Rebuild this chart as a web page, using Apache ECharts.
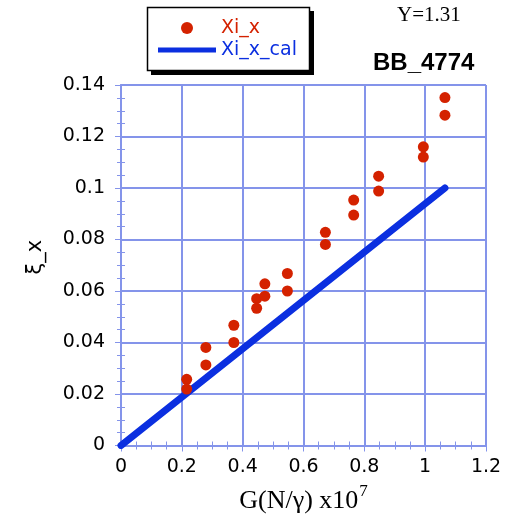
<!DOCTYPE html>
<html>
<head>
<meta charset="utf-8">
<script src="https://cdn.jsdelivr.net/npm/echarts@6/dist/echarts.min.js"></script>
<style>
  html, body { margin: 0; padding: 0; background: #fff; }
  #chart { width: 505px; height: 519px; }
</style>
</head>
<body>
<div id="chart"></div>
<script>
// Measured damping ratio vs. G(N/gamma), with the calculated line
const measuredG  = [0.216, 0.216, 0.279, 0.279, 0.371, 0.371, 0.446, 0.446, 0.473, 0.473,
                    0.547, 0.547, 0.672, 0.672, 0.765, 0.765, 0.847, 0.847, 0.994, 0.994,
                    1.065, 1.065];
const measuredXi = [0.0257, 0.0219, 0.0381, 0.0313, 0.0467, 0.0400, 0.0570, 0.0533, 0.0628, 0.0580,
                    0.0668, 0.0600, 0.0828, 0.0781, 0.0953, 0.0895, 0.1046, 0.0988, 0.1160, 0.1120,
                    0.1351, 0.1283];
const calcG  = [0, 1.065];
const calcXi = [0, 0.1000];

const xTicks = { min: 0, max: 1.2, interval: 0.2 };
const yTicks = { min: 0, max: 0.14, interval: 0.02 };

const gridBlue = '#8494ea';
const red = '#d42200';
const blue = '#0b2fe0';
const tickFont = 'DejaVu Sans';

const toPairs = (xs, ys) => xs.map((x, i) => [x, ys[i]]);

function frameAxis(base, extra) {
  return Object.assign({
    type: 'value',
    min: base.min, max: base.max, interval: base.interval,
    axisLine: { show: true, lineStyle: { color: gridBlue, width: 2 } },
    axisTick: { show: true, inside: true, length: 6, lineStyle: { color: gridBlue, width: 1 } },
    minorTick: { show: true, splitNumber: 4, length: 4, lineStyle: { color: gridBlue, width: 1 } },
    axisLabel: { show: false },
    splitLine: { show: false }
  }, extra);
}

const chart = echarts.init(document.getElementById('chart'), null, { renderer: 'canvas' });

chart.setOption({
  animation: false,
  backgroundColor: '#ffffff',
  title: [
    { text: 'Y=1.31', left: 397, top: 5, padding: 0,
      textStyle: { fontFamily: 'Liberation Serif', fontWeight: 'normal', fontSize: 21, color: '#000' } },
    { text: 'BB_4774', left: 373, top: 51, padding: 0,
      textStyle: { fontFamily: 'Liberation Sans', fontWeight: 'bold', fontSize: 24, color: '#000' } }
  ],
  // legend frame with a solid drop shadow
  graphic: [
    { type: 'rect', z: 0, silent: true,
      shape: { x: 151, y: 11, width: 163, height: 64 },
      style: { fill: '#000' } },
    { type: 'rect', z: 1, silent: true,
      shape: { x: 147.5, y: 7.5, width: 162, height: 63 },
      style: { fill: '#fff', stroke: '#000', lineWidth: 1.5 } }
  ],
  legend: {
    orient: 'vertical',
    left: 147, top: 7,
    padding: [11, 13, 11, 11],
    itemWidth: 58, itemHeight: 12, itemGap: 2,
    z: 5,
    textStyle: { fontFamily: tickFont, fontSize: 19, lineHeight: 20 },
    data: [
      { name: 'Xi_x', icon: 'circle', textStyle: { color: red } },
      { name: 'Xi_x_cal', icon: 'path://M0,0L58,0L58,5L0,5Z', textStyle: { color: blue } }
    ]
  },
  grid: { left: 121, right: 19, top: 85, bottom: 70 },
  xAxis: [
    frameAxis(xTicks, {
      position: 'bottom',
      axisLabel: { show: true, margin: 12, fontFamily: tickFont, fontSize: 19, color: '#000' },
      splitLine: { show: true, lineStyle: { color: gridBlue, width: 2 } },
      name: '{a|G(N/γ) x10}{s|7}',
      nameLocation: 'middle',
      nameGap: 38,
      nameTextStyle: {
        rich: {
          a: { fontFamily: 'Liberation Serif', fontSize: 26, color: '#000' },
          s: { fontFamily: 'Liberation Serif', fontSize: 17, color: '#000', padding: [0, 0, 18, 1] }
        }
      }
    }),
    frameAxis(xTicks, { position: 'top' })
  ],
  yAxis: [
    frameAxis(yTicks, {
      position: 'left',
      axisLabel: { show: true, margin: 16, fontFamily: tickFont, fontSize: 19, color: '#000' },
      splitLine: { show: true, lineStyle: { color: gridBlue, width: 2 } },
      name: 'ξ_x',
      nameLocation: 'middle',
      nameGap: 75,
      nameTextStyle: { fontFamily: tickFont, fontSize: 21, color: '#000', padding: [0, 0, 0, 16] }
    }),
    frameAxis(yTicks, { position: 'right' })
  ],
  series: [
    {
      name: 'Xi_x_cal',
      type: 'line',
      data: toPairs(calcG, calcXi),
      showSymbol: false,
      lineStyle: { color: blue, width: 7, cap: 'round' },
      itemStyle: { color: blue },
      z: 3
    },
    {
      name: 'Xi_x',
      type: 'scatter',
      data: toPairs(measuredG, measuredXi),
      symbol: 'circle',
      symbolSize: 11,
      itemStyle: { color: red, opacity: 1 },
      z: 4
    }
  ]
});
</script>
</body>
</html>
